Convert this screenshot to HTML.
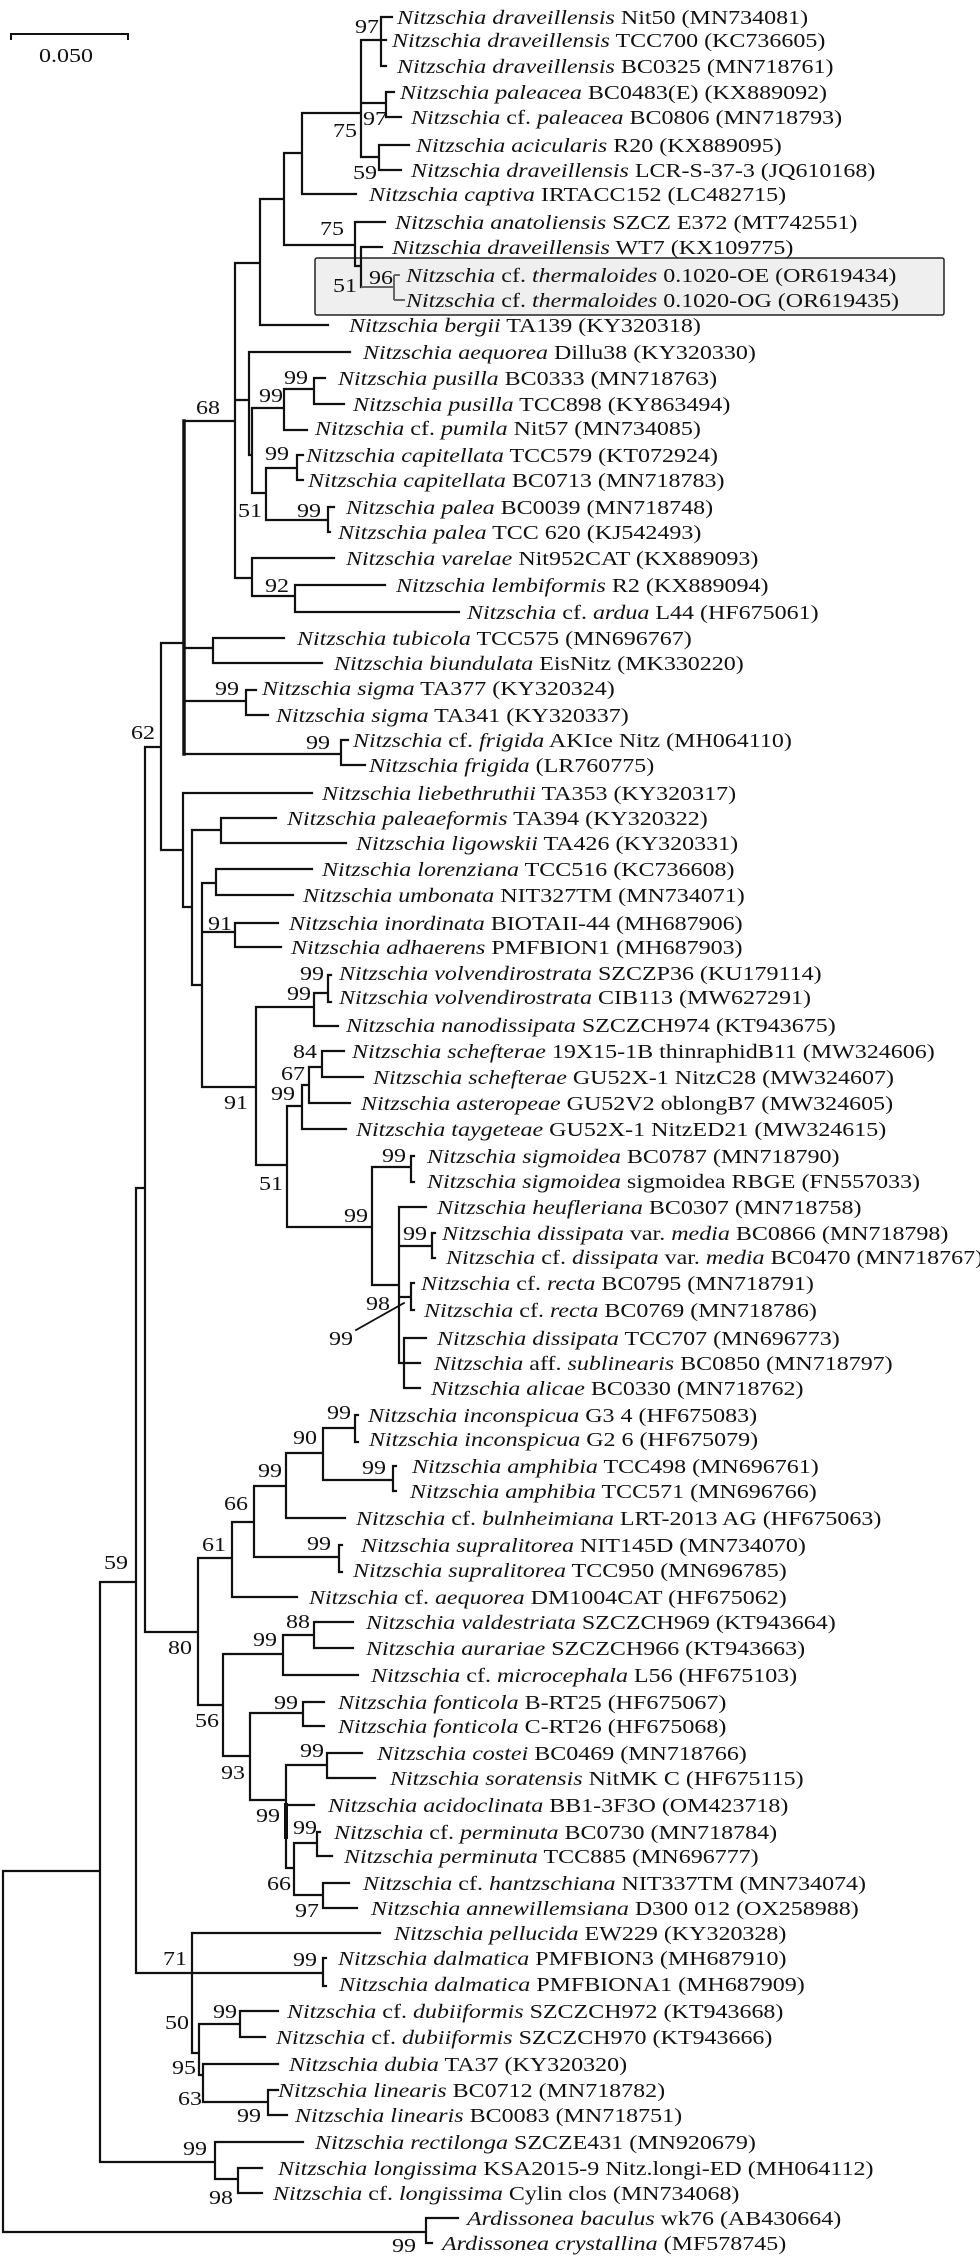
<!DOCTYPE html>
<html><head><meta charset="utf-8"><style>
html,body{margin:0;padding:0;background:#fff;}
svg{display:block;}
text{font-family:"Liberation Serif","Times New Roman",serif;font-size:20px;fill:#111;}
.b{font-size:20px;}
</style></head><body>
<svg width="980" height="2261" viewBox="0 0 980 2261" xmlns="http://www.w3.org/2000/svg">
<rect x="0" y="0" width="980" height="2261" fill="#fff"/>
<rect x="315" y="258" width="629" height="57" rx="2" fill="#efefef" stroke="#222" stroke-width="1.5"/>
<!-- scale bar -->
<path d="M11 40V34H128V40" fill="none" stroke="#111" stroke-width="2"/>
<text transform="translate(39 62) scale(1.2 1)">0.050</text>
<g fill="none" stroke="#111" stroke-width="2.2" stroke-linecap="square">
<path d="M381 17V66M381 17H392M361 40H386M381 66H386
M361 103H386M386 92V117M386 92H394M386 117H401
M361 157H379M379 145V170M379 145H409M379 170H401
M361 40V157M302 113H361M302 113V194M302 194H356M284 153H302
M284 153V245M284 245H355M355 222V266M355 222H385M355 266H361
M361 247V287M361 247H382
M260 199V325M260 199H284M260 325H328M235 263H260
M235 263V578M235 400H249M186 421H235
M249 352V455M249 352H350M249 455H252
M252 408V493M252 408H284M252 493H266
M284 389V430M284 389H314M314 378V404M314 378H325M314 404H344M284 430H307
M266 468V520M266 468H297M297 455V480M297 455H303M297 480H303M266 520H328M328 507V532M328 507H334M328 532H330
M235 578H252M252 558V596M252 558H334M252 596H295M295 585V612M295 585H385M295 612H459
M184 648H213M213 638V663M213 638H284M213 663H322
M184 701H246M246 690V715M246 690H256M246 715H268
M184 754H341M341 740V765M341 740H348M341 765H365
M161 643V850M161 643H184M161 850H183M145 747H161
M183 793V907M183 793H312M183 907H192
M192 830V985M192 830H221M221 818V843M221 818H276M221 843H346M192 985H202
M202 883V1087M202 883H216M216 869V895M216 869H312M216 895H293M202 932H235M235 923V947M235 923H278M235 947H281M202 1087H256
M256 1007V1165M256 1007H314M314 993V1026M314 993H328M328 975V1002M328 975H331M328 1002H331M314 1026H338M256 1165H287
M287 1106V1227M287 1106H302M302 1085V1129M302 1085H309M309 1067V1103M309 1067H322M322 1051V1077M322 1051H344M322 1077H363M309 1103H350M302 1129H346M287 1227H372
M372 1167V1285M372 1167H411M411 1156V1182M411 1156H414M411 1182H414M372 1285H399
M399 1207V1363M399 1207H426M399 1246H432M432 1233V1258M432 1233H435M432 1258H435
M399 1297H411M411 1283V1310M411 1283H414M411 1310H414
M399 1363H404M404 1338V1388M404 1338H426M404 1363H420M404 1388H420
M145 747V1632M136 1188H145M136 1188V1973M100 1582H136M100 1582V2162M3 1871H100M3 1871V2232M3 2232H426
M426 2218V2243M426 2218H458M426 2243H432
M145 1632H198M198 1558V1705M198 1558H232M232 1522V1597M232 1597H297
M232 1522H254M254 1486V1557M254 1557H339M339 1545V1572M339 1545H342M339 1572H342
M254 1486H286M286 1453V1518M286 1518H345
M286 1453H323M323 1428V1480M323 1428H355M355 1415V1442M355 1415H358M355 1442H358M323 1480H393M393 1466V1491M393 1466H396M393 1491H396
M198 1705H223M223 1654V1756M223 1654H283M283 1635V1675M283 1635H314M314 1622V1648M314 1622H353M314 1648H353M283 1675H358
M223 1756H250M250 1713V1800M250 1713H303M303 1702V1726M303 1702H324M303 1726H324
M250 1800H286M286 1765V1868M286 1765H327M327 1753V1778M327 1753H362M327 1778H375M286 1805H314M286 1868H294
M294 1843V1895M294 1843H317M317 1832V1856M317 1832H320M317 1856H332M294 1895H323M323 1883V1908M323 1883H349M323 1908H357
M136 1973H192M192 1933V2053M192 1933H380M192 1973H323M323 1958V1986M323 1958H326M323 1986H326
M192 2053H199M199 2024V2075M199 2024H240M240 2011V2037M240 2011H278M240 2037H265
M199 2075H203M203 2064V2102M203 2064H278M203 2102H268M268 2090V2115M268 2090H278M268 2115H287
M100 2162H215M215 2142V2179M215 2142H303M215 2179H238M238 2168V2193M238 2168H262M238 2193H262"/>
<path d="M184 421V754" stroke-width="3.5"/>
<path d="M286 1805V1837" stroke-width="4"/>
<path d="M356 1330L404 1303" stroke-width="1.8"/>
</g>
<g fill="none" stroke="#666" stroke-width="2">
<path d="M361 287H394M394 275V300M394 275H400M394 300H405"/>
</g>
<!-- bootstrap values -->
<g class="b">
<text transform="translate(355 33) scale(1.2 1)">97</text>
<text transform="translate(363 125) scale(1.2 1)">97</text>
<text transform="translate(333 137) scale(1.2 1)">75</text>
<text transform="translate(353 179) scale(1.2 1)">59</text>
<text transform="translate(320 235) scale(1.2 1)">75</text>
<text transform="translate(333 292) scale(1.2 1)">51</text>
<text transform="translate(369 284) scale(1.2 1)">96</text>
<text transform="translate(284 384) scale(1.2 1)">99</text>
<text transform="translate(259 402) scale(1.2 1)">99</text>
<text transform="translate(196 414) scale(1.2 1)">68</text>
<text transform="translate(265 460) scale(1.2 1)">99</text>
<text transform="translate(238 517) scale(1.2 1)">51</text>
<text transform="translate(297 517) scale(1.2 1)">99</text>
<text transform="translate(265 592) scale(1.2 1)">92</text>
<text transform="translate(215 695) scale(1.2 1)">99</text>
<text transform="translate(306 749) scale(1.2 1)">99</text>
<text transform="translate(131 739) scale(1.2 1)">62</text>
<text transform="translate(208 930) scale(1.2 1)">91</text>
<text transform="translate(300 980) scale(1.2 1)">99</text>
<text transform="translate(287 1000) scale(1.2 1)">99</text>
<text transform="translate(293 1058) scale(1.2 1)">84</text>
<text transform="translate(281 1080) scale(1.2 1)">67</text>
<text transform="translate(271 1100) scale(1.2 1)">99</text>
<text transform="translate(224 1109) scale(1.2 1)">91</text>
<text transform="translate(259 1190) scale(1.2 1)">51</text>
<text transform="translate(382 1162) scale(1.2 1)">99</text>
<text transform="translate(344 1222) scale(1.2 1)">99</text>
<text transform="translate(403 1240) scale(1.2 1)">99</text>
<text transform="translate(366 1310) scale(1.2 1)">98</text>
<text transform="translate(329 1345) scale(1.2 1)">99</text>
<text transform="translate(327 1419) scale(1.2 1)">99</text>
<text transform="translate(293 1444) scale(1.2 1)">90</text>
<text transform="translate(362 1474) scale(1.2 1)">99</text>
<text transform="translate(258 1477) scale(1.2 1)">99</text>
<text transform="translate(224 1510) scale(1.2 1)">66</text>
<text transform="translate(202 1551) scale(1.2 1)">61</text>
<text transform="translate(307 1550) scale(1.2 1)">99</text>
<text transform="translate(104 1569) scale(1.2 1)">59</text>
<text transform="translate(168 1654) scale(1.2 1)">80</text>
<text transform="translate(286 1628) scale(1.2 1)">88</text>
<text transform="translate(253 1646) scale(1.2 1)">99</text>
<text transform="translate(274 1709) scale(1.2 1)">99</text>
<text transform="translate(195 1727) scale(1.2 1)">56</text>
<text transform="translate(221 1779) scale(1.2 1)">93</text>
<text transform="translate(300 1757) scale(1.2 1)">99</text>
<text transform="translate(256 1822) scale(1.2 1)">99</text>
<text transform="translate(293 1834) scale(1.2 1)">99</text>
<text transform="translate(267 1890) scale(1.2 1)">66</text>
<text transform="translate(295 1917) scale(1.2 1)">97</text>
<text transform="translate(163 1965) scale(1.2 1)">71</text>
<text transform="translate(293 1966) scale(1.2 1)">99</text>
<text transform="translate(213 2018) scale(1.2 1)">99</text>
<text transform="translate(165 2029) scale(1.2 1)">50</text>
<text transform="translate(172 2074) scale(1.2 1)">95</text>
<text transform="translate(178 2105) scale(1.2 1)">63</text>
<text transform="translate(237 2122) scale(1.2 1)">99</text>
<text transform="translate(183 2155) scale(1.2 1)">99</text>
<text transform="translate(209 2204) scale(1.2 1)">98</text>
<text transform="translate(392 2252) scale(1.2 1)">99</text>
</g>
<!-- leaf labels -->
<g>
<text transform="translate(397 24) scale(1.2 1)"><tspan font-style="italic">Nitzschia draveillensis</tspan> Nit50 (MN734081)</text>
<text transform="translate(392 47) scale(1.2 1)"><tspan font-style="italic">Nitzschia draveillensis</tspan> TCC700 (KC736605)</text>
<text transform="translate(397 73) scale(1.2 1)"><tspan font-style="italic">Nitzschia draveillensis</tspan> BC0325 (MN718761)</text>
<text transform="translate(400 99) scale(1.2 1)"><tspan font-style="italic">Nitzschia paleacea</tspan> BC0483(E) (KX889092)</text>
<text transform="translate(411 124) scale(1.2 1)"><tspan font-style="italic">Nitzschia</tspan> cf. <tspan font-style="italic">paleacea</tspan> BC0806 (MN718793)</text>
<text transform="translate(416 152) scale(1.2 1)"><tspan font-style="italic">Nitzschia acicularis</tspan> R20 (KX889095)</text>
<text transform="translate(411 177) scale(1.2 1)"><tspan font-style="italic">Nitzschia draveillensis</tspan> LCR-S-37-3 (JQ610168)</text>
<text transform="translate(369 201) scale(1.2 1)"><tspan font-style="italic">Nitzschia captiva</tspan> IRTACC152 (LC482715)</text>
<text transform="translate(395 229) scale(1.2 1)"><tspan font-style="italic">Nitzschia anatoliensis</tspan> SZCZ E372 (MT742551)</text>
<text transform="translate(392 254) scale(1.2 1)"><tspan font-style="italic">Nitzschia draveillensis</tspan> WT7 (KX109775)</text>
<text transform="translate(406 282) scale(1.2 1)"><tspan font-style="italic">Nitzschia</tspan> cf. <tspan font-style="italic">thermaloides</tspan> 0.1020-OE (OR619434)</text>
<text transform="translate(406 307) scale(1.2 1)"><tspan font-style="italic">Nitzschia</tspan> cf. <tspan font-style="italic">thermaloides</tspan> 0.1020-OG (OR619435)</text>
<text transform="translate(349 332) scale(1.2 1)"><tspan font-style="italic">Nitzschia bergii</tspan> TA139 (KY320318)</text>
<text transform="translate(363 359) scale(1.2 1)"><tspan font-style="italic">Nitzschia aequorea</tspan> Dillu38 (KY320330)</text>
<text transform="translate(338 385) scale(1.2 1)"><tspan font-style="italic">Nitzschia pusilla</tspan> BC0333 (MN718763)</text>
<text transform="translate(353 411) scale(1.2 1)"><tspan font-style="italic">Nitzschia pusilla</tspan> TCC898 (KY863494)</text>
<text transform="translate(315 435) scale(1.2 1)"><tspan font-style="italic">Nitzschia</tspan> cf. <tspan font-style="italic">pumila</tspan> Nit57 (MN734085)</text>
<text transform="translate(306 462) scale(1.2 1)"><tspan font-style="italic">Nitzschia capitellata</tspan> TCC579 (KT072924)</text>
<text transform="translate(308 487) scale(1.2 1)"><tspan font-style="italic">Nitzschia capitellata</tspan> BC0713 (MN718783)</text>
<text transform="translate(346 514) scale(1.2 1)"><tspan font-style="italic">Nitzschia palea</tspan> BC0039 (MN718748)</text>
<text transform="translate(338 539) scale(1.2 1)"><tspan font-style="italic">Nitzschia palea</tspan> TCC 620 (KJ542493)</text>
<text transform="translate(346 565) scale(1.2 1)"><tspan font-style="italic">Nitzschia varelae</tspan> Nit952CAT (KX889093)</text>
<text transform="translate(396 592) scale(1.2 1)"><tspan font-style="italic">Nitzschia lembiformis</tspan> R2 (KX889094)</text>
<text transform="translate(467 619) scale(1.2 1)"><tspan font-style="italic">Nitzschia</tspan> cf. <tspan font-style="italic">ardua</tspan> L44 (HF675061)</text>
<text transform="translate(297 645) scale(1.2 1)"><tspan font-style="italic">Nitzschia tubicola</tspan> TCC575 (MN696767)</text>
<text transform="translate(334 670) scale(1.2 1)"><tspan font-style="italic">Nitzschia biundulata</tspan> EisNitz (MK330220)</text>
<text transform="translate(262 695) scale(1.2 1)"><tspan font-style="italic">Nitzschia sigma</tspan> TA377 (KY320324)</text>
<text transform="translate(276 722) scale(1.2 1)"><tspan font-style="italic">Nitzschia sigma</tspan> TA341 (KY320337)</text>
<text transform="translate(353 747) scale(1.2 1)"><tspan font-style="italic">Nitzschia</tspan> cf. <tspan font-style="italic">frigida</tspan> AKIce Nitz (MH064110)</text>
<text transform="translate(369 772) scale(1.2 1)"><tspan font-style="italic">Nitzschia frigida</tspan> (LR760775)</text>
<text transform="translate(322 800) scale(1.2 1)"><tspan font-style="italic">Nitzschia liebethruthii</tspan> TA353 (KY320317)</text>
<text transform="translate(287 825) scale(1.2 1)"><tspan font-style="italic">Nitzschia paleaeformis</tspan> TA394 (KY320322)</text>
<text transform="translate(356 850) scale(1.2 1)"><tspan font-style="italic">Nitzschia ligowskii</tspan> TA426 (KY320331)</text>
<text transform="translate(322 876) scale(1.2 1)"><tspan font-style="italic">Nitzschia lorenziana</tspan> TCC516 (KC736608)</text>
<text transform="translate(303 902) scale(1.2 1)"><tspan font-style="italic">Nitzschia umbonata</tspan> NIT327TM (MN734071)</text>
<text transform="translate(289 930) scale(1.2 1)"><tspan font-style="italic">Nitzschia inordinata</tspan> BIOTAII-44 (MH687906)</text>
<text transform="translate(291 954) scale(1.2 1)"><tspan font-style="italic">Nitzschia adhaerens</tspan> PMFBION1 (MH687903)</text>
<text transform="translate(339 980) scale(1.2 1)"><tspan font-style="italic">Nitzschia volvendirostrata</tspan> SZCZP36 (KU179114)</text>
<text transform="translate(339 1004) scale(1.2 1)"><tspan font-style="italic">Nitzschia volvendirostrata</tspan> CIB113 (MW627291)</text>
<text transform="translate(346 1032) scale(1.2 1)"><tspan font-style="italic">Nitzschia nanodissipata</tspan> SZCZCH974 (KT943675)</text>
<text transform="translate(352 1058) scale(1.2 1)"><tspan font-style="italic">Nitzschia schefterae</tspan> 19X15-1B thinraphidB11 (MW324606)</text>
<text transform="translate(373 1084) scale(1.2 1)"><tspan font-style="italic">Nitzschia schefterae</tspan> GU52X-1 NitzC28 (MW324607)</text>
<text transform="translate(361 1110) scale(1.2 1)"><tspan font-style="italic">Nitzschia asteropeae</tspan> GU52V2 oblongB7 (MW324605)</text>
<text transform="translate(356 1136) scale(1.2 1)"><tspan font-style="italic">Nitzschia taygeteae</tspan> GU52X-1 NitzED21 (MW324615)</text>
<text transform="translate(427 1163) scale(1.2 1)"><tspan font-style="italic">Nitzschia sigmoidea</tspan> BC0787 (MN718790)</text>
<text transform="translate(427 1188) scale(1.2 1)"><tspan font-style="italic">Nitzschia sigmoidea</tspan> sigmoidea RBGE (FN557033)</text>
<text transform="translate(437 1214) scale(1.2 1)"><tspan font-style="italic">Nitzschia heufleriana</tspan> BC0307 (MN718758)</text>
<text transform="translate(442 1240) scale(1.2 1)"><tspan font-style="italic">Nitzschia dissipata</tspan> var. <tspan font-style="italic">media</tspan> BC0866 (MN718798)</text>
<text transform="translate(446 1264) scale(1.2 1)"><tspan font-style="italic">Nitzschia</tspan> cf. <tspan font-style="italic">dissipata</tspan> var. <tspan font-style="italic">media</tspan> BC0470 (MN718767)</text>
<text transform="translate(421 1290) scale(1.2 1)"><tspan font-style="italic">Nitzschia</tspan> cf. <tspan font-style="italic">recta</tspan> BC0795 (MN718791)</text>
<text transform="translate(424 1317) scale(1.2 1)"><tspan font-style="italic">Nitzschia</tspan> cf. <tspan font-style="italic">recta</tspan> BC0769 (MN718786)</text>
<text transform="translate(437 1345) scale(1.2 1)"><tspan font-style="italic">Nitzschia dissipata</tspan> TCC707 (MN696773)</text>
<text transform="translate(434 1370) scale(1.2 1)"><tspan font-style="italic">Nitzschia</tspan> aff. <tspan font-style="italic">sublinearis</tspan> BC0850 (MN718797)</text>
<text transform="translate(431 1395) scale(1.2 1)"><tspan font-style="italic">Nitzschia alicae</tspan> BC0330 (MN718762)</text>
<text transform="translate(368 1422) scale(1.2 1)"><tspan font-style="italic">Nitzschia inconspicua</tspan> G3 4 (HF675083)</text>
<text transform="translate(369 1446) scale(1.2 1)"><tspan font-style="italic">Nitzschia inconspicua</tspan> G2 6 (HF675079)</text>
<text transform="translate(412 1473) scale(1.2 1)"><tspan font-style="italic">Nitzschia amphibia</tspan> TCC498 (MN696761)</text>
<text transform="translate(410 1498) scale(1.2 1)"><tspan font-style="italic">Nitzschia amphibia</tspan> TCC571 (MN696766)</text>
<text transform="translate(356 1525) scale(1.2 1)"><tspan font-style="italic">Nitzschia</tspan> cf. <tspan font-style="italic">bulnheimiana</tspan> LRT-2013 AG (HF675063)</text>
<text transform="translate(361 1552) scale(1.2 1)"><tspan font-style="italic">Nitzschia supralitorea</tspan> NIT145D (MN734070)</text>
<text transform="translate(353 1577) scale(1.2 1)"><tspan font-style="italic">Nitzschia supralitorea</tspan> TCC950 (MN696785)</text>
<text transform="translate(309 1604) scale(1.2 1)"><tspan font-style="italic">Nitzschia</tspan> cf. <tspan font-style="italic">aequorea</tspan>  DM1004CAT (HF675062)</text>
<text transform="translate(366 1629) scale(1.2 1)"><tspan font-style="italic">Nitzschia valdestriata</tspan> SZCZCH969 (KT943664)</text>
<text transform="translate(366 1655) scale(1.2 1)"><tspan font-style="italic">Nitzschia aurariae</tspan> SZCZCH966 (KT943663)</text>
<text transform="translate(371 1682) scale(1.2 1)"><tspan font-style="italic">Nitzschia</tspan> cf. <tspan font-style="italic">microcephala</tspan> L56 (HF675103)</text>
<text transform="translate(338 1709) scale(1.2 1)"><tspan font-style="italic">Nitzschia fonticola</tspan> B-RT25 (HF675067)</text>
<text transform="translate(338 1733) scale(1.2 1)"><tspan font-style="italic">Nitzschia fonticola</tspan> C-RT26 (HF675068)</text>
<text transform="translate(377 1760) scale(1.2 1)"><tspan font-style="italic">Nitzschia costei</tspan> BC0469 (MN718766)</text>
<text transform="translate(390 1785) scale(1.2 1)"><tspan font-style="italic">Nitzschia soratensis</tspan> NitMK C (HF675115)</text>
<text transform="translate(328 1812) scale(1.2 1)"><tspan font-style="italic">Nitzschia acidoclinata</tspan> BB1-3F3O (OM423718)</text>
<text transform="translate(334 1839) scale(1.2 1)"><tspan font-style="italic">Nitzschia</tspan> cf. <tspan font-style="italic">perminuta</tspan> BC0730 (MN718784)</text>
<text transform="translate(344 1863) scale(1.2 1)"><tspan font-style="italic">Nitzschia perminuta</tspan> TCC885 (MN696777)</text>
<text transform="translate(363 1890) scale(1.2 1)"><tspan font-style="italic">Nitzschia</tspan> cf. <tspan font-style="italic">hantzschiana</tspan> NIT337TM (MN734074)</text>
<text transform="translate(371 1915) scale(1.2 1)"><tspan font-style="italic">Nitzschia annewillemsiana</tspan> D300 012 (OX258988)</text>
<text transform="translate(394 1940) scale(1.2 1)"><tspan font-style="italic">Nitzschia pellucida</tspan> EW229 (KY320328)</text>
<text transform="translate(338 1965) scale(1.2 1)"><tspan font-style="italic">Nitzschia dalmatica</tspan> PMFBION3 (MH687910)</text>
<text transform="translate(339 1991) scale(1.2 1)"><tspan font-style="italic">Nitzschia dalmatica</tspan> PMFBIONA1 (MH687909)</text>
<text transform="translate(287 2018) scale(1.2 1)"><tspan font-style="italic">Nitzschia</tspan> cf. <tspan font-style="italic">dubiiformis</tspan> SZCZCH972 (KT943668)</text>
<text transform="translate(276 2044) scale(1.2 1)"><tspan font-style="italic">Nitzschia</tspan> cf. <tspan font-style="italic">dubiiformis</tspan> SZCZCH970 (KT943666)</text>
<text transform="translate(289 2071) scale(1.2 1)"><tspan font-style="italic">Nitzschia dubia</tspan> TA37 (KY320320)</text>
<text transform="translate(278 2097) scale(1.2 1)"><tspan font-style="italic">Nitzschia linearis</tspan> BC0712 (MN718782)</text>
<text transform="translate(295 2122) scale(1.2 1)"><tspan font-style="italic">Nitzschia linearis</tspan> BC0083 (MN718751)</text>
<text transform="translate(315 2149) scale(1.2 1)"><tspan font-style="italic">Nitzschia rectilonga</tspan> SZCZE431 (MN920679)</text>
<text transform="translate(278 2175) scale(1.2 1)"><tspan font-style="italic">Nitzschia longissima</tspan> KSA2015-9 Nitz.longi-ED (MH064112)</text>
<text transform="translate(273 2200) scale(1.2 1)"><tspan font-style="italic">Nitzschia</tspan> cf. <tspan font-style="italic">longissima</tspan> Cylin clos (MN734068)</text>
<text transform="translate(467 2225) scale(1.2 1)"><tspan font-style="italic">Ardissonea baculus</tspan> wk76 (AB430664)</text>
<text transform="translate(442 2250) scale(1.2 1)"><tspan font-style="italic">Ardissonea crystallina</tspan> (MF578745)</text>
</g>
</svg>
</body></html>
